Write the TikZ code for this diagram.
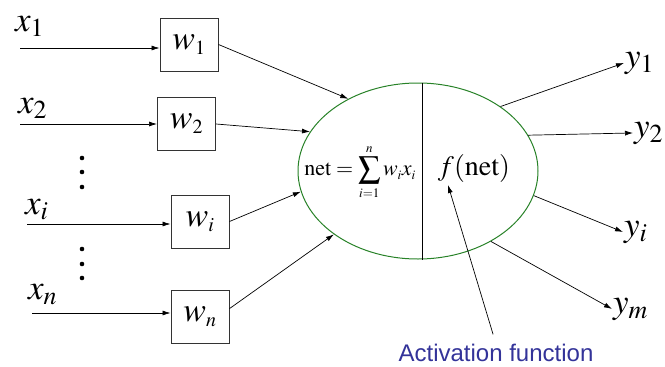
\documentclass[tikz,border=0pt]{standalone}
\usepackage{mathptmx}
\usepackage{fontspec}
\setmainfont{Liberation Serif}
\newfontfamily\actfont{Liberation Sans}
\usetikzlibrary{arrows.meta,shapes.geometric,positioning}
\DeclareMathSizes{34}{34}{20}{15}
\DeclareMathSizes{28}{28}{17}{13}
\DeclareMathSizes{22}{22}{13}{10}
\definecolor{cellgreen}{RGB}{40,130,40}
\definecolor{actblue}{RGB}{51,51,153}

\begin{document}
\begin{tikzpicture}[x=1pt, y=-1pt]

  \tikzstyle{wbox}  = [draw=black!80, line width=1pt, minimum width=58pt, minimum height=53pt, inner sep=0pt, font=\fontsize{34}{40}\selectfont]
  \tikzstyle{sym}   = [inner sep=1pt, font=\fontsize{35}{40}\selectfont]
  \tikzstyle{arr}   = [-{Latex[length=8pt,width=5pt]}, line width=0.7pt]
  \tikzstyle{cell}  = [ellipse, draw=cellgreen, line width=1pt, minimum width=240pt, minimum height=176pt, inner sep=0pt]

  \useasboundingbox (0,0) rectangle (665,367);

  % ---- WEIGHTS ----
  \node[wbox] (w1) at (189,44.5)  {$w_1$};
  \node[wbox] (w2) at (186.5,124) {$w_2$};
  \node[wbox] (wi) at (200,221.5) {$w_i$};
  \node[wbox] (wn) at (200,316.5) {$w_n$};

  % ---- INPUTS ----
  \coordinate (s1) at (20,48);
  \coordinate (s2) at (20,124);
  \coordinate (si) at (27,224);
  \coordinate (sn) at (32,313);
  \node[sym, anchor=base west] (x1) at (14,31)  {$x_1$};
  \node[sym, anchor=base west] (x2) at (17,113) {$x_2$};
  \node[sym, anchor=base west] (xi) at (24,214) {$x_i$};
  \node[sym, anchor=base west] (xn) at (27,299) {$x_n$};
  \draw[arr] (s1) -- (s1 -| w1.west);
  \draw[arr] (s2) -- (s2 -| w2.west);
  \draw[arr] (si) -- (si -| wi.west);
  \draw[arr] (sn) -- (sn -| wn.west);

  \foreach \y in {158,172,187,249,264,278}{
    \fill (82,\y) circle (2.3pt);
  }

  % ---- NEURON ----
  \node[cell] (neuron) at (418,171) {};
  \draw[line width=0.8pt] ([xshift=4pt]neuron.north) -- ([xshift=4pt]neuron.south);
  \node[inner sep=0pt, font=\fontsize{22}{26}\selectfont] (net) at (360,172)
    {$\mathrm{net}=\displaystyle\sum_{i=1}^{n} w_i x_i$};
  \node[inner sep=0pt, font=\fontsize{28}{32}\selectfont] (fnet) at (474,168)
    {$f(\mathrm{net})$};

  \draw[arr] (w1.east) -- (neuron.134);
  \draw[arr] (w2.east) -- (neuron.160);
  \draw[arr] (wi.east) -- (neuron.190);
  \draw[arr] (wn.15)   -- (neuron.217);

  % ---- OUTPUTS ----
  \node[sym, anchor=base west] (y1) at (624,67)  {$y_1$};
  \node[sym, anchor=base west] (y2) at (633,137) {$y_2$};
  \node[sym, anchor=base west] (yi) at (623,236) {$y_i$};
  \node[sym, anchor=base west] (ym) at (612,313) {$y_m$};
  \draw[arr] (neuron.38)  -- (y1.west);
  \draw[arr] (neuron.18)  -- (y2.west);
  \draw[arr] (neuron.348) -- (yi.west);
  \draw[arr] (neuron.316) -- (ym.west);

  % ---- ACTIVATION ----
  \node[text=actblue, font=\actfont\fontsize{24}{28}\selectfont, inner sep=0pt] (act) at (496,353) {Activation function};
  \coordinate (tip) at (448,185);
  \draw[arr, shorten <=10pt] (act.north) -- (tip);

\end{tikzpicture}
\end{document}
